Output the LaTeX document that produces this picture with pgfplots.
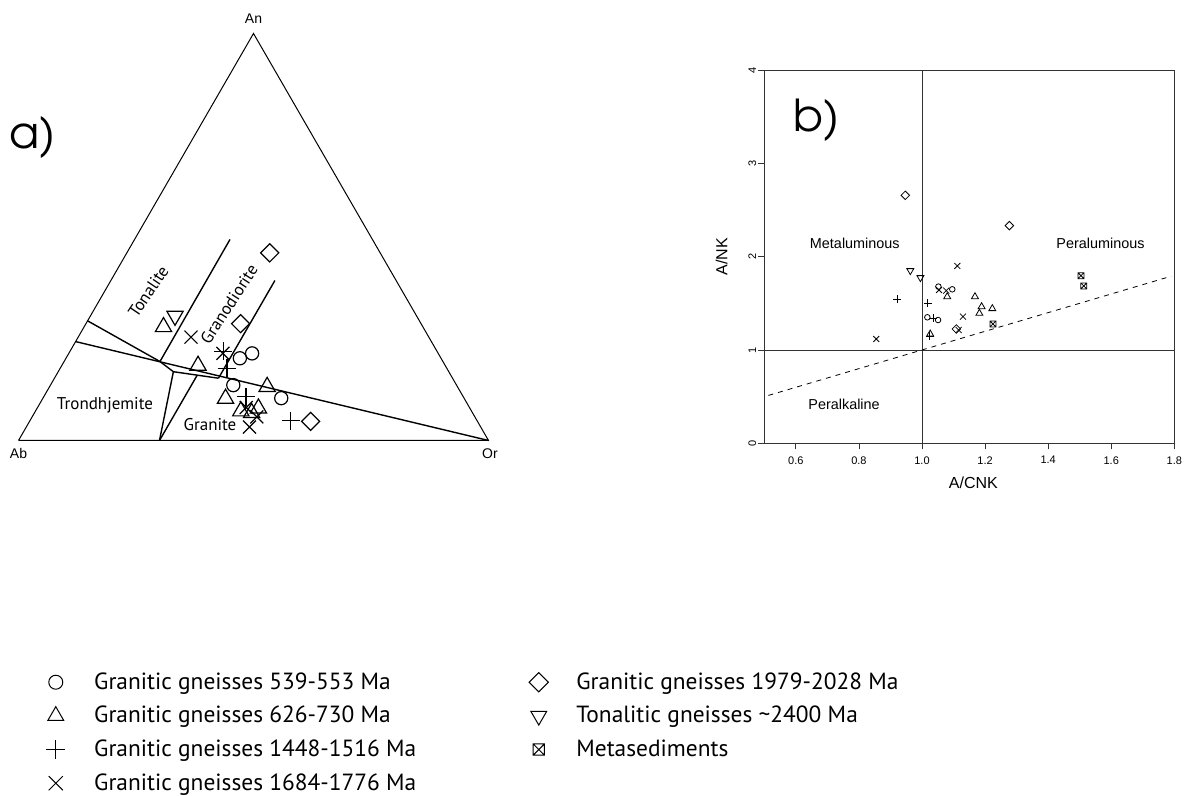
\documentclass[border=0pt]{standalone}
\usepackage{pgfplots}
\pgfplotsset{compat=1.18}
\usepackage{pgfplotstable}
\usepackage{fontspec}
\setmainfont{PT Sans}
\newfontfamily\arialf{Liberation Sans}
\newfontfamily\geof{TeX Gyre Adventor}

\pgfdeclareplotmark{boxx}{%
  \pgfpathrectangle{\pgfpoint{-\pgfplotmarksize}{-\pgfplotmarksize}}{\pgfpoint{2\pgfplotmarksize}{2\pgfplotmarksize}}%
  \pgfpathmoveto{\pgfpoint{-\pgfplotmarksize}{-\pgfplotmarksize}}\pgfpathlineto{\pgfpoint{\pgfplotmarksize}{\pgfplotmarksize}}%
  \pgfpathmoveto{\pgfpoint{-\pgfplotmarksize}{\pgfplotmarksize}}\pgfpathlineto{\pgfpoint{\pgfplotmarksize}{-\pgfplotmarksize}}%
  \pgfusepathqstroke}

% ---------- Ternary data (An, Ab, Or in %) ----------
\pgfplotstableread{
An Ab Or
20.2 42.8 37.0
21.4 39.6 39.0
13.6 47.5 38.9
10.4 38.9 50.7
}\terCirc
\pgfplotstableread{
An Ab Or
27.9 55.2 16.9
18.4 52.6 29.0
10.3 50.8 38.9
13.2 40.5 46.3
7.2 49.1 43.7
7.9 45.0 47.1
6.8 47.0 46.2
}\terTri
\pgfplotstableread{
An Ab Or
30.6 51.4 18.0
}\terTriD
\pgfplotstableread{
An Ab Or
21.9 45.5 32.6
17.7 46.8 35.5
10.8 46.2 43.0
4.9 39.6 55.5
}\terPlus
\pgfplotstableread{
An Ab Or
25.4 50.6 24.0
21.4 45.8 32.8
8.1 47.5 44.4
5.8 46.4 47.8
3.3 49.2 47.5
}\terCross
\pgfplotstableread{
An Ab Or
46.1 23.5 30.4
28.7 38.4 32.9
4.7 35.5 59.8
}\terDiam

% ---------- A/CNK vs A/NK data ----------
\pgfplotstableread{
x y
1.052 1.679
1.096 1.650
1.017 1.350
1.051 1.321
}\bCirc
\pgfplotstableread{
x y
0.947 2.657
1.277 2.332
1.109 1.225
}\bDiam
\pgfplotstableread{
x y
1.080 1.571
1.168 1.571
1.189 1.464
1.182 1.393
1.223 1.443
1.026 1.171
}\bTri
\pgfplotstableread{
x y
0.963 1.850
0.995 1.775
}\bTriD
\pgfplotstableread{
x y
0.922 1.546
1.018 1.500
1.035 1.339
1.024 1.150
}\bPlus
\pgfplotstableread{
x y
1.504 1.796
1.513 1.686
1.225 1.279
}\bBox
\pgfplotstableread{
x y
0.855 1.118
1.112 1.900
1.054 1.643
1.077 1.636
1.130 1.357
1.116 1.214
}\bCross

\begin{document}
\begin{tikzpicture}
\path[use as bounding box] (0,0) rectangle (594.5pt,398pt);

% ================= Panel a: ternary ====================
\begin{axis}[
  at={(9.25pt,177.75pt)}, anchor=south west,
  scale only axis, width=235pt, height=203.5pt,
  xmin=0, xmax=1, ymin=0, ymax=0.866025,
  hide axis, clip=false,
]
% triangle
\addplot[black, line width=0.5pt] table[x expr={(\thisrow{Or}+0.5*\thisrow{An})/100}, y expr={0.866025*\thisrow{An}/100}] {
An Or
0 0
0 100
100 0
0 0
};
% field boundaries
\addplot[black, line width=0.7pt] table[x expr={(\thisrow{Or}+0.5*\thisrow{An})/100}, y expr={0.866025*\thisrow{An}/100}] {
An Or
29.4 0
19.4 20.4
16.9 24.5
15.3 34.9
};
\addplot[black, line width=0.7pt] table[x expr={(\thisrow{Or}+0.5*\thisrow{An})/100}, y expr={0.866025*\thisrow{An}/100}] {
An Or
24.3 0
0 100
};
\addplot[black, line width=0.7pt] table[x expr={(\thisrow{Or}+0.5*\thisrow{An})/100}, y expr={0.866025*\thisrow{An}/100}] {
An Or
0 30.0
16.9 24.5
};
\addplot[black, line width=0.7pt] table[x expr={(\thisrow{Or}+0.5*\thisrow{An})/100}, y expr={0.866025*\thisrow{An}/100}] {
An Or
0 30.0
16.1 30.0
};
\addplot[black, line width=0.7pt] table[x expr={(\thisrow{Or}+0.5*\thisrow{An})/100}, y expr={0.866025*\thisrow{An}/100}] {
An Or
19.4 20.4
49.4 20.3
};
\addplot[black, line width=0.7pt] table[x expr={(\thisrow{Or}+0.5*\thisrow{An})/100}, y expr={0.866025*\thisrow{An}/100}] {
An Or
15.3 34.9
39.3 34.9
};
% samples
\addplot[only marks, black, mark=o, mark size=3.3pt, line width=0.6pt] table[x expr={(\thisrow{Or}+0.5*\thisrow{An})/100}, y expr={0.866025*\thisrow{An}/100}] {\terCirc};
\addplot[only marks, black, mark=triangle, mark size=4.7pt, line width=0.6pt] table[x expr={(\thisrow{Or}+0.5*\thisrow{An})/100}, y expr={0.866025*\thisrow{An}/100}] {\terTri};
\addplot[only marks, black, mark=triangle, mark options={rotate=180}, mark size=4.7pt, line width=0.6pt] table[x expr={(\thisrow{Or}+0.5*\thisrow{An})/100}, y expr={0.866025*\thisrow{An}/100}] {\terTriD};
\addplot[only marks, black, mark=+, mark size=4.5pt, line width=0.6pt] table[x expr={(\thisrow{Or}+0.5*\thisrow{An})/100}, y expr={0.866025*\thisrow{An}/100}] {\terPlus};
\addplot[only marks, black, mark=x, mark size=4.6pt, line width=0.6pt] table[x expr={(\thisrow{Or}+0.5*\thisrow{An})/100}, y expr={0.866025*\thisrow{An}/100}] {\terCross};
\addplot[only marks, black, mark=square, mark options={rotate=45}, mark size=3.2pt, line width=0.6pt] table[x expr={(\thisrow{Or}+0.5*\thisrow{An})/100}, y expr={0.866025*\thisrow{An}/100}] {\terDiam};
% labels
\node[font=\arialf\fontsize{7}{8}\selectfont] at (axis cs:0.5,0.8983) {An};
\node[font=\arialf\fontsize{7}{8}\selectfont] at (axis cs:0,-0.0272) {Ab};
\node[font=\arialf\fontsize{7}{8}\selectfont] at (axis cs:1.003,-0.0272) {Or};
\node[font=\fontsize{8.5}{10}\selectfont, rotate=56] at (axis cs:0.2761,0.3166) {Tonalite};
\node[font=\fontsize{8.5}{10}\selectfont, rotate=57] at (axis cs:0.4479,0.2904) {Granodiorite};
\node[font=\fontsize{8.5}{10}\selectfont] at (axis cs:0.184,0.0755) {Trondhjemite};
\node[font=\fontsize{8.5}{10}\selectfont] at (axis cs:0.4074,0.033) {Granite};
\end{axis}
\node[font=\geof\fontsize{22}{24}\selectfont] at (16.35pt,329.35pt) {a)};

% ================= Panel b ====================
\begin{axis}[
  at={(382.15pt,176.35pt)}, anchor=south west,
  scale only axis, width=205pt, height=186.65pt,
  xmin=0.5, xmax=1.8, ymin=0, ymax=4,
  axis line style={line width=0.4pt, black!80},
  xtick={0.6,0.8,1.0,1.2,1.4,1.6,1.8},
  xticklabels={0.6,0.8,1.0,1.2,1.4,1.6,1.8},
  ytick={0,1,2,3,4},
  yticklabels={0,1,2,3,4},
  xtick pos=left, ytick pos=left,
  tick align=outside, major tick length=3pt,
  tick style={line width=0.4pt, black!80},
  ticklabel style={font=\arialf\fontsize{5.5}{6}\selectfont},
  yticklabel style={rotate=90, anchor=south},
  yticklabel shift=-2.5pt,
  xlabel={A/CNK}, ylabel={A/NK},
  label style={font=\arialf\fontsize{8}{9}\selectfont},
  xlabel style={at={(axis description cs:0.51,-0.1045)}, anchor=center},
  ylabel style={at={(axis description cs:-0.104,0.5)}, anchor=center},
  legend columns=2,
  legend cell align=left,
  legend style={at={(axis description cs:-1.7666,-0.5912)}, anchor=north west,
    draw=none, fill=none, font=\fontsize{11.7}{13}\selectfont, row sep=3pt,
    /tikz/column 1/.style={column sep=12.5pt},
    /tikz/column 2/.style={column sep=54.5pt},
    /tikz/column 3/.style={column sep=12pt}},
]
\addplot[forget plot, black!80, line width=0.45pt] coordinates {(1,0) (1,4)};
\addplot[forget plot, black!80, line width=0.45pt] coordinates {(0.5,1) (1.8,1)};
\addplot[forget plot, black, line width=0.4pt, dash pattern=on 2.5pt off 2.5pt] coordinates {(0.513,0.513) (1.79,1.79)};

\addplot[only marks, black, mark=o, mark size=1.4pt, line width=0.4pt,
  legend image post style={mark size=3.5pt, line width=0.5pt}] table {\bCirc};
\addlegendentry{Granitic gneisses 539-553 Ma}
\addplot[only marks, black, mark=square, mark options={rotate=45}, mark size=1.5pt, line width=0.4pt,
  legend image post style={mark size=3.4pt, line width=0.5pt}] table {\bDiam};
\addlegendentry{Granitic gneisses 1979-2028 Ma}
\addplot[only marks, black, mark=triangle, mark size=2pt, line width=0.4pt,
  legend image post style={mark size=4.6pt, line width=0.5pt}] table {\bTri};
\addlegendentry{Granitic gneisses 626-730 Ma}
\addplot[only marks, black, mark=triangle, mark options={rotate=180}, mark size=2pt, line width=0.4pt,
  legend image post style={mark size=4.6pt, line width=0.5pt}] table {\bTriD};
\addlegendentry{Tonalitic gneisses \textasciitilde 2400 Ma}
\addplot[only marks, black, mark=+, mark size=2pt, line width=0.4pt,
  legend image post style={mark size=4.7pt, line width=0.5pt}] table {\bPlus};
\addlegendentry{Granitic gneisses 1448-1516 Ma}
\addplot[only marks, black, mark=boxx, mark size=1.5pt, line width=0.4pt,
  legend image post style={mark size=2.8pt, line width=0.5pt}] table {\bBox};
\addlegendentry{Metasediments}
\addplot[only marks, black, mark=x, mark size=2.1pt, line width=0.4pt,
  legend image post style={mark size=5pt, line width=0.5pt}] table {\bCross};
\addlegendentry{Granitic gneisses 1684-1776 Ma}

\node[font=\arialf\fontsize{7.2}{8}\selectfont] at (axis cs:0.787,2.14) {Metaluminous};
\node[font=\arialf\fontsize{7.2}{8}\selectfont] at (axis cs:1.566,2.14) {Peraluminous};
\node[font=\arialf\fontsize{7.2}{8}\selectfont] at (axis cs:0.753,0.418) {Peralkaline};
\node[font=\geof\fontsize{22}{24}\selectfont] at (axis cs:0.666,3.465) {b)};
\end{axis}
\end{tikzpicture}
\end{document}
